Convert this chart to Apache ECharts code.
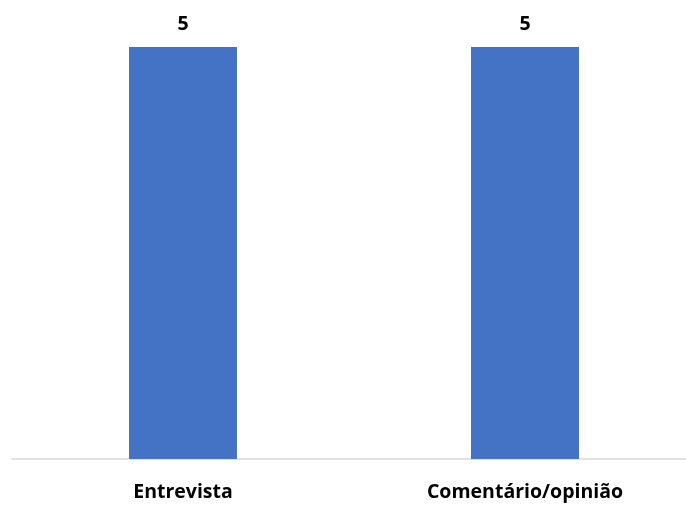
<!DOCTYPE html>
<html lang="pt">

<head>
    <meta charset="UTF-8">
    <title>Gráfico</title>
    <style>
        body {
            margin: 0px;
            padding: 0px;
            background: #ffffff;
            overflow: hidden;
        }

        #chart {
            width: 686px;
            height: 505px;
        }
    </style>
</head>

<body>
    <div id="chart"></div>
    <script src="https://cdn.jsdelivr.net/npm/echarts@6/dist/echarts.min.js"></script>
    <script>
        var categories = ['Entrevista', 'Comentário/opinião'];
        var values = [5, 5];

        var myChart = echarts.init(document.getElementById('chart'));

        var option = {
            animation: false,
            grid: {
                left: 12,
                width: 684,   // a bit wider than the canvas, like the cropped original
                top: 47,
                bottom: 46,
                outerBoundsMode: 'none'
            },
            xAxis: {
                type: 'category',
                data: categories,
                axisTick: { show: false },
                axisLine: { lineStyle: { color: '#d9d9d9', width: 1.5 } },
                axisLabel: {
                    margin: 23,
                    color: '#000000',
                    fontWeight: 'bold',
                    fontSize: 19.5,
                    fontFamily: 'Open Sans'
                }
            },
            yAxis: {
                type: 'value',
                min: 0,
                max: 5,
                show: false
            },
            series: [{
                type: 'bar',
                data: values,
                barWidth: 108,
                itemStyle: { color: '#4472c4' },
                label: {
                    show: true,
                    position: 'top',
                    distance: 13,
                    color: '#000000',
                    fontWeight: 'bold',
                    fontSize: 19.5,
                    fontFamily: 'Open Sans'
                }
            }]
        };

        myChart.setOption(option);
    </script>
</body>

</html>
